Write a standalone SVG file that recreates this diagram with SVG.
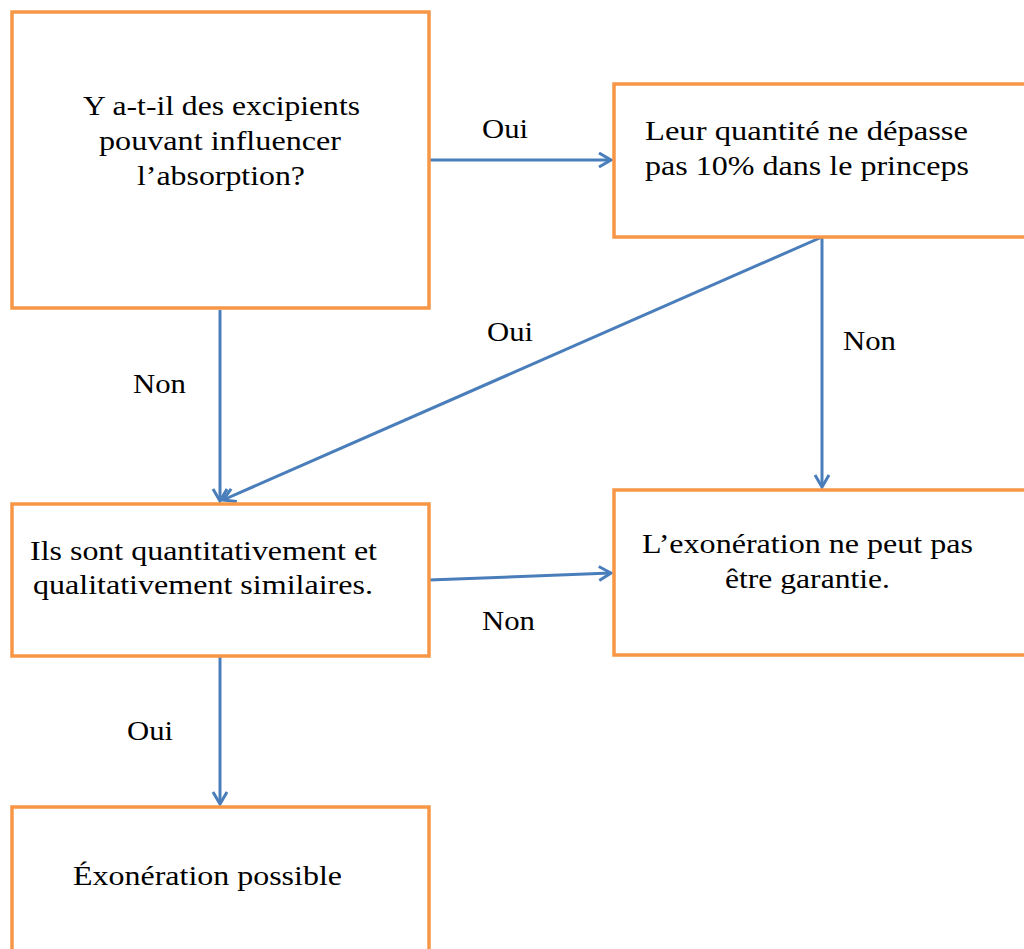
<svg xmlns="http://www.w3.org/2000/svg" width="1024" height="949" viewBox="0 0 1024 949">
  <style>
    .box { fill: #ffffff; stroke: #F79646; stroke-width: 3.5; }
    .c { fill: none; stroke: #4A7EBB; stroke-width: 3; marker-end: url(#arr); }
  </style>
  <defs>
    <marker id="arr" markerUnits="userSpaceOnUse" markerWidth="20" markerHeight="20" refX="13" refY="8" orient="auto">
      <path d="M1,1 L13,8 L1,15" fill="none" stroke="#4A7EBB" stroke-width="3" stroke-linejoin="miter"/>
    </marker>
  </defs>
  <rect width="1024" height="949" fill="#ffffff"/>

  <g id="connectors" font-family="'Liberation Serif', serif" font-size="28" fill="#000">
    <line class="c" x1="429" y1="160" x2="611" y2="160"/>
    <line class="c" x1="220" y1="310" x2="220" y2="501"/>
    <line class="c" x1="822" y1="237" x2="223" y2="500"/>
    <line class="c" x1="822" y1="237" x2="822" y2="487"/>
    <line class="c" x1="429" y1="580" x2="611" y2="573"/>
    <line class="c" x1="220" y1="657" x2="220" y2="804"/>
    <text x="482" y="138" textLength="46" lengthAdjust="spacingAndGlyphs">Oui</text>
    <text x="133" y="393" textLength="53" lengthAdjust="spacingAndGlyphs">Non</text>
    <text x="487" y="341" textLength="46" lengthAdjust="spacingAndGlyphs">Oui</text>
    <text x="843" y="350" textLength="53" lengthAdjust="spacingAndGlyphs">Non</text>
    <text x="482" y="630" textLength="53" lengthAdjust="spacingAndGlyphs">Non</text>
    <text x="127" y="740" textLength="46" lengthAdjust="spacingAndGlyphs">Oui</text>
  </g>

  <g id="q1" font-family="'Liberation Serif', serif" font-size="28" fill="#000">
    <rect class="box" x="12" y="12" width="417" height="296"/>
    <text x="83" y="115" textLength="277" lengthAdjust="spacingAndGlyphs">Y a-t-il des excipients</text>
    <text x="99" y="150" textLength="242" lengthAdjust="spacingAndGlyphs">pouvant influencer</text>
    <text x="137" y="185" textLength="168" lengthAdjust="spacingAndGlyphs">l’absorption?</text>
  </g>

  <g id="q2" font-family="'Liberation Serif', serif" font-size="28" fill="#000">
    <rect class="box" x="614" y="84" width="420" height="153"/>
    <text x="645" y="140" textLength="323" lengthAdjust="spacingAndGlyphs">Leur quantité ne dépasse</text>
    <text x="645" y="175" textLength="324" lengthAdjust="spacingAndGlyphs">pas 10% dans le princeps</text>
  </g>

  <g id="q3" font-family="'Liberation Serif', serif" font-size="28" fill="#000">
    <rect class="box" x="12" y="504" width="417" height="152"/>
    <text x="30" y="560" textLength="347" lengthAdjust="spacingAndGlyphs">Ils sont quantitativement et</text>
    <text x="33" y="594" textLength="340" lengthAdjust="spacingAndGlyphs">qualitativement similaires.</text>
  </g>

  <g id="no" font-family="'Liberation Serif', serif" font-size="28" fill="#000">
    <rect class="box" x="614" y="490" width="420" height="165"/>
    <text x="642" y="553" textLength="331" lengthAdjust="spacingAndGlyphs">L’exonération ne peut pas</text>
    <text x="725" y="588" textLength="165" lengthAdjust="spacingAndGlyphs">être garantie.</text>
  </g>

  <g id="yes" font-family="'Liberation Serif', serif" font-size="28" fill="#000">
    <rect class="box" x="12" y="807" width="417" height="160"/>
    <text x="73" y="885" textLength="269" lengthAdjust="spacingAndGlyphs">Éxonération possible</text>
  </g>
</svg>
